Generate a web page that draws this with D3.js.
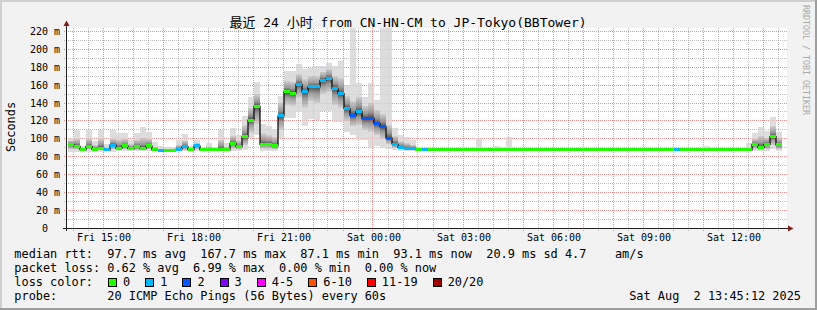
<!DOCTYPE html>
<html><head><meta charset="utf-8">
<script src="https://cdn.jsdelivr.net/npm/d3@7"></script>
<style>
html,body{margin:0;padding:0;background:#f2f2f2;}
svg{display:block;}
text{font-family:"DejaVu Sans Mono","Noto Sans CJK SC",monospace;white-space:pre;}
</style></head><body>
<svg id="c" width="817" height="310"></svg>
<script>
// ---------------- data ----------------
const title = "最近 24 小时 from CN-HN-CM to JP-Tokyo(BBTower)";
const yAxisTitle = "Seconds";
const watermark = "RRDTOOL / TOBI OETIKER";
const yTickValues = [0,20,40,60,80,100,120,140,160,180,200,220];
const yTickLabels = ["0  ","20 m","40 m","60 m","80 m","100 m","120 m","140 m","160 m","180 m","200 m","220 m"];
const xTickTimes = [[2025,7,1,15],[2025,7,1,18],[2025,7,1,21],[2025,7,2,0],[2025,7,2,3],[2025,7,2,6],[2025,7,2,9],[2025,7,2,12]];
const xTickLabels = ["Fri 15:00","Fri 18:00","Fri 21:00","Sat 00:00","Sat 03:00","Sat 06:00","Sat 09:00","Sat 12:00"];
const windowStart = [2025,7,1,13,48];
const windowEnd = [2025,7,2,13,48];
const firstBar = [2025,7,1,13,50];
const barMinutes = 12;

// median rtt per 12-minute bar (ms)
const medians = [
 93.8,91.5,87.8,91.5,88.0,89.6,87.5,93.0,89.6,91.9,89.0,91.0,89.0,91.9,87.4,87.1,87.1,87.1,88.5,
 91.0,87.8,91.9,87.4,88.0,87.4,88.0,87.6,94.9,91.1,102.0,121.0,136.3,93.8,93.8,91.9,125.5,152.4,151.0,
 161.0,152.4,158.0,158.0,165.5,167.7,156.5,150.5,133.7,126.3,130.3,122.5,123.0,116.9,113.5,100.8,94.1,90.4,89.3,89.3,87.4,
 87.6,87.4,87.4,87.4,87.4,87.4,87.4,87.4,87.4,87.6,
 87.4,87.4,87.4,87.4,87.4,87.4,87.4,87.4,87.4,87.4,
 87.4,87.4,87.4,87.4,87.4,87.4,87.4,87.4,87.4,87.4,
 87.4,87.4,87.4,87.4,87.4,87.4,87.4,87.4,87.4,87.4,
 87.4,87.4,87.6,87.4,87.4,87.4,87.4,87.4,87.4,87.4,
 87.4,87.4,87.4,87.4,
 87.4,93.8,90.4,93.8,102.3,93.1];
// loss colour class per bar (index into lossColors)
const lossClass = [
 0,0,0,0,0,0,1,1,0,0,0,0,0,0,0,1,0,0,1,
 1,0,1,0,0,0,0,0,0,0,0,0,0,0,0,0,1,0,0,
 1,1,1,1,1,1,1,1,1,2,1,2,2,2,2,2,1,1,1,1,0,
 1,0,0,0,0,0,0,0,0,0,
 0,0,0,0,0,0,0,0,0,0,
 0,0,0,0,0,0,0,0,0,0,
 0,0,0,0,0,0,0,0,0,0,
 0,0,1,0,0,0,0,0,0,0,
 0,0,0,0,
 0,0,0,0,0,0];
// smoke extent (lowest / highest ping, ms)
const smokeMin = [
 85.5,85.5,86,85.5,86,85.5,86,85.5,86,86,86,86,86,86,86,86,86,86,86,
 86,86,86,86,86,86,86,86,86,86,87.4,100.5,104,86.5,86.5,86.5,100.5,123,123,
 130.3,114.3,122,121,131.5,131.5,119,119,108,104.2,98.6,98.6,89.3,92,89.3,88,87,86.5,86.5,86.5,86.5,
 86.5,86.5,86.5,86.5,86.5,86.5,86.5,86.5,86.5,86.5,
 86.5,86.5,86.5,86.5,86.5,86.5,86.5,86.5,86.5,86.5,
 86.5,86.5,86.5,86.5,86.5,86.5,86.5,86.5,86.5,86.5,
 86.5,86.5,86.5,86.5,86.5,86.5,86.5,86.5,86.5,86.5,
 86.5,86.5,86.5,86.5,86.5,86.5,86.5,86.5,86.5,86.5,
 86.5,86.5,86.5,86.5,
 86.5,86.5,86.5,86.5,89,86.5];
const smokeMax = [
 100.5,109.8,92,109.8,97,109.8,94,109.8,106,106.5,99,106,113.5,107.5,96.5,92,91,90.5,98.6,
 105,92,98.6,90,95,91,109.8,95,111.6,104,125.5,147,163.2,116.5,114,111,148,176,176,
 184,178,179,181,181,185.3,182,187,160.2,224,162,147,162,143.4,224,224,111.7,104.2,102,98.6,91,
 88.6,88.4,88.4,88.4,88.4,88.4,88.4,88.4,88.4,100.5,
 88.4,88.4,92,88.4,101.7,88.4,88.4,88.4,88.4,88.4,
 88.4,88.4,88.4,88.4,88.4,88.4,88.4,88.4,88.4,88.4,
 88.4,88.4,88.4,88.4,88.4,88.4,88.4,88.4,88.4,88.4,
 88.4,88.4,88.6,88.4,88.4,88.4,88.4,91.9,88.8,88.8,
 88.8,88.8,89.6,89.6,
 95,106,113.5,108.5,124.7,108];
// dense core of the smoke (ms)
const smokeLo = [
 88,88,86.5,88,86.5,87,86.5,88,87,88,87,87.5,87,88,86.5,86.5,86.5,86.5,87,
 87.5,86.5,88,86.5,86.5,86.5,87,86.5,89,88,93,107,117,89,89,88,110,138,137,
 146,135,142,140,150,152,138,135,120,114,115,110,108,104,100,94,89.5,88,87.5,87.5,86.8,
 86.8,86.8,86.8,86.8,86.8,86.8,86.8,86.8,86.8,86.8,
 86.8,86.8,86.8,86.8,86.8,86.8,86.8,86.8,86.8,86.8,
 86.8,86.8,86.8,86.8,86.8,86.8,86.8,86.8,86.8,86.8,
 86.8,86.8,86.8,86.8,86.8,86.8,86.8,86.8,86.8,86.8,
 86.8,86.8,86.8,86.8,86.8,86.8,86.8,86.8,86.8,86.8,
 86.8,86.8,86.8,86.8,
 86.8,88,87.5,88,93,88];
const smokeHi = [
 98,100,90,100,93,100,90,100,99,100,94,99,101,100,91,89,88.5,88.5,93,
 98,89.5,95,88.5,91,89,99,91,103,98,115,135,150,106,104,102,140,165,164,
 172,167,170,170,175,178,170,168,148,142,147,137,140,132,128,115,103,97,95,93,89,
 88.3,88.2,88.2,88.2,88.2,88.2,88.2,88.2,88.2,90,
 88.2,88.2,89,88.2,90,88.2,88.2,88.2,88.2,88.2,
 88.2,88.2,88.2,88.2,88.2,88.2,88.2,88.2,88.2,88.2,
 88.2,88.2,88.2,88.2,88.2,88.2,88.2,88.2,88.2,88.2,
 88.2,88.2,88.3,88.2,88.2,88.2,88.2,88.6,88.2,88.2,
 88.2,88.2,88.4,88.4,
 90,100,103,101,114,101];

const legendRtt = "median rtt:  97.7 ms avg  167.7 ms max  87.1 ms min  93.1 ms now  20.9 ms sd 4.7    am/s";
const legendLoss = "packet loss: 0.62 % avg  6.99 % max  0.00 % min  0.00 % now";
const lossLegendLabel = "loss color:";
const lossLabels = ["0","1","2","3","4-5","6-10","11-19","20/20"];
const lossColors = ["#26ff00","#00b8ff","#0059ff","#7e00ff","#ff00ff","#ff5500","#ff0000","#a10000"];
const legendProbe = "probe:       20 ICMP Echo Pings (56 Bytes) every 60s";
const stampText = "Sat Aug  2 13:45:12 2025";

// ---------------- drawing ----------------
const W = 817, H = 310;
const svg = d3.select("#c");
const mkDate = a => new Date(a[0],a[1],a[2],a[3],a[4]||0);

svg.append("rect").attr("width",W).attr("height",H).attr("fill","#f2f2f2");
svg.append("rect").attr("x",0).attr("y",0).attr("width",W).attr("height",2).attr("fill","#cfcfcf");
svg.append("rect").attr("x",0).attr("y",0).attr("width",2).attr("height",H).attr("fill","#cfcfcf");
svg.append("rect").attr("x",0).attr("y",H-2).attr("width",W).attr("height",2).attr("fill","#9e9e9e");
svg.append("rect").attr("x",W-2).attr("y",0).attr("width",2).attr("height",H).attr("fill","#9e9e9e");

const x = d3.scaleTime().domain([mkDate(windowStart), mkDate(windowEnd)]).range([67, 787]);
const y = d3.scaleLinear().domain([0, 224.1]).range([228, 28]);

svg.append("rect").attr("x",67).attr("y",28).attr("width",720).attr("height",200).attr("fill","#ffffff");

function drawGrid(g, opMaj, opMin){
  const vTimes = d3.timeMinute.every(30).range(mkDate(windowStart), mkDate(windowEnd));
  vTimes.forEach(t=>{
    const major = t.getMinutes()===0;
    const xx = Math.floor(x(t))+0.5;
    g.append("line").attr("x1",xx).attr("x2",xx).attr("y1",28).attr("y2",231)
      .attr("stroke", major ? "#de5050" : "#8f8f8f").attr("stroke-opacity", major?opMaj:opMin)
      .attr("stroke-dasharray","1,1");
  });
  d3.range(10,230,10).forEach(v=>{
    const major = v%20===0;
    const yy = Math.floor(y(v))+0.5;
    g.append("line").attr("x1",64).attr("x2",787).attr("y1",yy).attr("y2",yy)
      .attr("stroke", major ? "#de5050" : "#8f8f8f").attr("stroke-opacity", major?opMaj:opMin)
      .attr("stroke-dasharray","1,1");
  });
}
drawGrid(svg.append("g"), 0.55, 0.5);

const defs = svg.append("defs");
function grad(id, stops){
  const g = defs.append("linearGradient").attr("id",id).attr("x1",0).attr("y1",0).attr("x2",0).attr("y2",1);
  stops.forEach(s=>g.append("stop").attr("offset",s[0]).attr("stop-color",s[1]));
}
grad("gTop", [[0,"#cfcfcf"],[0.6,"#9a9a9a"],[1,"#4a4a4a"]]);
grad("gBot", [[0,"#4a4a4a"],[0.4,"#9a9a9a"],[1,"#cfcfcf"]]);

const t0 = mkDate(firstBar);
const barStart = i => d3.timeMinute.offset(t0, i*barMinutes);
const idx = d3.range(medians.length);
const bx = i => x(barStart(i));
const bw = i => x(barStart(i+1)) - x(barStart(i));

const smoke = svg.append("g").attr("shape-rendering","crispEdges");
smoke.selectAll("rect.outer").data(idx).join("rect").attr("class","outer")
  .attr("x",bx).attr("width",bw)
  .attr("y",i=>y(smokeMax[i])).attr("height",i=>Math.max(0,y(smokeMin[i])-y(smokeMax[i])))
  .attr("fill","#dddddd");
smoke.selectAll("rect.upper").data(idx).join("rect").attr("class","upper")
  .attr("x",bx).attr("width",bw)
  .attr("y",i=>y(smokeHi[i])).attr("height",i=>Math.max(0,y(medians[i])-y(smokeHi[i])))
  .attr("fill","url(#gTop)");
smoke.selectAll("rect.lower").data(idx).join("rect").attr("class","lower")
  .attr("x",bx).attr("width",bw)
  .attr("y",i=>y(medians[i])).attr("height",i=>Math.max(0,y(smokeLo[i])-y(medians[i])))
  .attr("fill","url(#gBot)");

drawGrid(svg.append("g"), 0.2, 0.15);

// black step line through medians
const stepPts = idx.map(i=>[bx(i), y(medians[i])]);
stepPts.push([bx(medians.length), y(medians[medians.length-1])]);
svg.append("path").attr("d", d3.line().curve(d3.curveStepAfter)(stepPts))
  .attr("fill","none").attr("stroke","#000").attr("stroke-width",1.2);

// coloured median marks (on top of the step line)
const med = svg.append("g").attr("shape-rendering","crispEdges");
med.selectAll("rect").data(idx).join("rect")
  .attr("x",bx).attr("width",bw)
  .attr("y",i=>y(medians[i])-1.5).attr("height",3)
  .attr("fill",i=>lossColors[lossClass[i]]);

// axes
svg.append("line").attr("x1",66.5).attr("x2",66.5).attr("y1",231).attr("y2",25).attr("stroke","#1f1f1f");
svg.append("line").attr("x1",63).attr("x2",789).attr("y1",228.5).attr("y2",228.5).attr("stroke","#1f1f1f");
svg.append("path").attr("d","M63.5,26 L69.5,26 L66.5,20.5 Z").attr("fill","#801f1f");
svg.append("path").attr("d","M788,225.5 L788,231.5 L793.5,228.5 Z").attr("fill","#801f1f");

const yl = svg.append("g").attr("font-size",10).attr("text-anchor","end");
yTickValues.forEach((v,i)=>{
  yl.append("text").attr("x",60).attr("y",Math.floor(y(v))+4).text(yTickLabels[i]);
});
const xl = svg.append("g").attr("font-size",10).attr("text-anchor","middle");
xTickTimes.forEach((a,i)=>{
  xl.append("text").attr("x",x(mkDate(a))+1).attr("y",241).text(xTickLabels[i]);
});

svg.append("text").attr("x",408).attr("y",26.5).attr("text-anchor","middle").attr("font-size",13).text(title);
svg.append("text").attr("transform","translate(15,127) rotate(-90)").attr("text-anchor","middle")
  .attr("font-size",11.9).text(yAxisTitle);
svg.append("text").attr("transform","translate(803,5) rotate(90)").attr("font-size",8.3)
  .attr("fill","#a8a8a8").attr("textLength",110).attr("lengthAdjust","spacingAndGlyphs").text(watermark);

const cw = 7.15, lx = 14.35;
const L = svg.append("g").attr("font-size",11.9);
const line = (s,yy)=>L.append("text").attr("x",lx).attr("y",yy).attr("textLength",s.length*cw).attr("lengthAdjust","spacing").text(s);
line(legendRtt,258);
line(legendLoss,272);
line(lossLegendLabel,286);
let col = 13.1;
lossLabels.forEach((s,i)=>{
  const sx = lx + col*cw;
  L.append("rect").attr("x",Math.round(sx)+0.5).attr("y",278.5).attr("width",8).attr("height",8)
    .attr("fill",lossColors[i]).attr("stroke","#000").attr("stroke-width",1);
  col += 2.1;
  L.append("text").attr("x",lx+col*cw).attr("y",286).text(s);
  col += s.length + 2.1;
});
line(legendProbe,300);
L.append("text").attr("x",801).attr("y",300).attr("text-anchor","end").text(stampText);
</script>
</body></html>
